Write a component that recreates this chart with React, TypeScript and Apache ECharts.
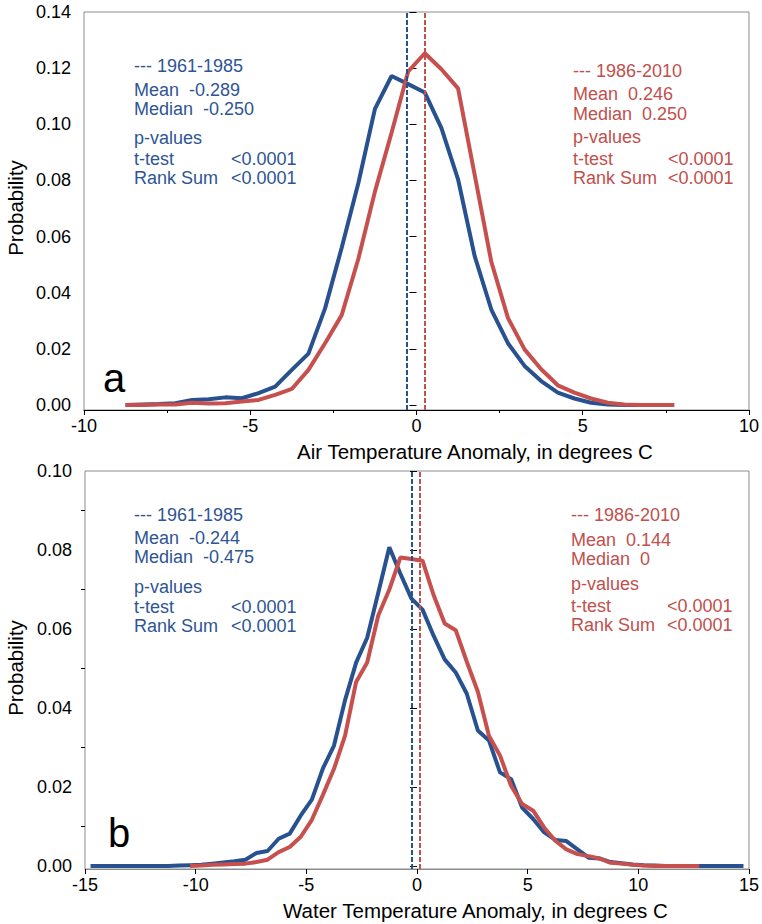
import React, { useEffect, useRef } from "react";
import * as echarts from "echarts";

// ---------- data ----------
const airX = [-8.75, -8.25, -7.75, -7.25, -6.75, -6.25, -5.75, -5.25, -4.75, -4.25, -3.75, -3.25, -2.75, -2.25, -1.75, -1.25, -0.75, -0.25, 0.25, 0.75, 1.25, 1.75, 2.25, 2.75, 3.25, 3.75, 4.25, 4.75, 5.25, 5.75, 6.25, 6.75, 7.25, 7.75];
const air1961 = [0, 0.0002, 0.0003, 0.0006, 0.0018, 0.002, 0.0027, 0.0024, 0.0042, 0.0065, 0.0125, 0.0183, 0.0344, 0.056, 0.079, 0.1055, 0.1172, 0.1143, 0.1113, 0.0986, 0.0804, 0.053, 0.034, 0.022, 0.0139, 0.0085, 0.0044, 0.0023, 0.0008, 0.0002, 0, 0, 0, 0];
const air1986 = [0, 0, 0.0002, 0.0002, 0.0008, 0.0005, 0.0006, 0.0012, 0.0018, 0.0036, 0.0057, 0.0125, 0.022, 0.032, 0.052, 0.076, 0.097, 0.1188, 0.1253, 0.1196, 0.1128, 0.082, 0.051, 0.031, 0.0198, 0.0127, 0.007, 0.0044, 0.0023, 0.0008, 0.0002, 0, 0, 0];

const waterX1961 = [-14.75, -14.25, -13.75, -13.25, -12.75, -12.25, -11.75, -11.25, -10.75, -10.25, -9.75, -9.25, -8.75, -8.25, -7.75, -7.25, -6.75, -6.25, -5.75, -5.25, -4.75, -4.25, -3.75, -3.25, -2.75, -2.25, -1.75, -1.25, -0.75, -0.25, 0.25, 0.75, 1.25, 1.75, 2.25, 2.75, 3.25, 3.75, 4.25, 4.75, 5.25, 5.75, 6.25, 6.75, 7.25, 7.75, 8.25, 8.75, 9.25, 9.75, 10.25, 10.75, 11.25, 11.75, 12.25, 12.75, 13.25, 13.75, 14.25, 14.75];
const water1961 = [0, 0, 0, 0, 0, 0, 0, 0, 0.0001, 0.0002, 0.0003, 0.0006, 0.0009, 0.0012, 0.0016, 0.0033, 0.0038, 0.0069, 0.0082, 0.0128, 0.0168, 0.0247, 0.0305, 0.042, 0.0515, 0.0578, 0.0692, 0.0807, 0.074, 0.0677, 0.0649, 0.0583, 0.0523, 0.049, 0.0436, 0.0343, 0.0318, 0.0237, 0.022, 0.0148, 0.0119, 0.0085, 0.0066, 0.0063, 0.0042, 0.0021, 0.0019, 0.001, 0.0007, 0.0004, 0.0002, 0.0001, 0, 0, 0, 0, 0, 0, 0, 0];
const waterX1986 = [-10.25, -9.75, -9.25, -8.75, -8.25, -7.75, -7.25, -6.75, -6.25, -5.75, -5.25, -4.75, -4.25, -3.75, -3.25, -2.75, -2.25, -1.75, -1.25, -0.75, -0.25, 0.25, 0.75, 1.25, 1.75, 2.25, 2.75, 3.25, 3.75, 4.25, 4.75, 5.25, 5.75, 6.25, 6.75, 7.25, 7.75, 8.25, 8.75, 9.25, 9.75, 10.25, 10.75, 11.25, 11.75, 12.25, 12.75];
const water1986 = [0, 0.0001, 0.0003, 0.0004, 0.0005, 0.0006, 0.001, 0.0016, 0.0035, 0.0048, 0.0074, 0.0117, 0.018, 0.0246, 0.033, 0.0466, 0.0515, 0.0634, 0.07, 0.0781, 0.0777, 0.0773, 0.0686, 0.0614, 0.0597, 0.0517, 0.0441, 0.033, 0.028, 0.0203, 0.0157, 0.014, 0.0097, 0.0064, 0.0042, 0.003, 0.0025, 0.0019, 0.0008, 0.0006, 0.0003, 0.0001, 0, 0, 0, 0, 0];

const airMeans = [-0.289, 0.246];
const waterMeans = [-0.244, 0.144];

const airYTicks = [0, 0.02, 0.04, 0.06, 0.08, 0.1, 0.12, 0.14];
const waterYTicks = [0, 0.02, 0.04, 0.06, 0.08, 0.1];
const waterYMinor = [0.01, 0.03, 0.05, 0.07, 0.09];

const blueAir = ["--- 1961-1985", "Mean  -0.289", "Median  -0.250", "p-values", "t-test", "Rank Sum"];
const redAir = ["--- 1986-2010", "Mean  0.246", "Median  0.250", "p-values", "t-test", "Rank Sum"];
const blueWater = ["--- 1961-1985", "Mean  -0.244", "Median  -0.475", "p-values", "t-test", "Rank Sum"];
const redWater = ["--- 1986-2010", "Mean  0.144", "Median  0", "p-values", "t-test", "Rank Sum"];
const pValue = "<0.0001";

// ---------- styles ----------
const BLUE = "#27518f";
const BLUE_TXT = "#2e5594";
const RED = "#c6504e";
const RED_TXT = "#c0504d";
const FONT = "'Liberation Sans', Arial, sans-serif";
const FRAME = "#8c8c8c";

function textEl(text: string, x: number, y: number, color: string, size = 18, extra: any = {}) {
  const { align, ...rest } = extra;
  return {
    type: "text",
    x,
    y,
    silent: true,
    ...rest,
    style: {
      text,
      fill: color,
      fontSize: size,
      fontFamily: FONT,
      align: align || "left",
      verticalAlign: "middle",
    },
  };
}

function block(lines: string[], x: number, ys: number[], x2: number, color: string) {
  const els: any[] = lines.map((t, i) => textEl(t, x, ys[i], color));
  els.push(textEl(pValue, x2, ys[4], color));
  els.push(textEl(pValue, x2, ys[5], color));
  return els;
}

function mkLine(mean: number, color: string) {
  return {
    silent: true,
    symbol: ["none", "none"],
    label: { show: false },
    lineStyle: { color, type: [5, 2], width: 2 },
    data: [{ xAxis: mean }],
  };
}

function xAxisCfg(gridIndex: number, min: number, max: number, lineColor: string, minor: boolean) {
  return {
    type: "value",
    gridIndex,
    min,
    max,
    interval: 5,
    axisLine: { show: true, onZero: false, lineStyle: { color: lineColor, width: 1 } },
    axisTick: { show: true, length: 5, lineStyle: { color: "#000" } },
    minorTick: { show: minor, splitNumber: 2, length: 3, lineStyle: { color: "#000" } },
    axisLabel: { fontSize: 18, color: "#000", fontFamily: FONT, margin: 7 },
    splitLine: { show: false },
    minorSplitLine: { show: false },
  };
}

function yAxisCfg(gridIndex: number, min: number, max: number, ticks: number[], showLabel: boolean, len: number) {
  return {
    type: "value",
    gridIndex,
    position: "left",
    offset: 0,
    min,
    max,
    axisLine: { show: false },
    axisTick: { show: true, length: len, customValues: ticks, lineStyle: { color: "#000" } },
    axisLabel: {
      show: showLabel,
      customValues: ticks,
      formatter: (v: number) => v.toFixed(2),
      fontSize: 18,
      color: "#000",
      fontFamily: FONT,
      margin: 13,
    },
    splitLine: { show: false },
  };
}

export default function App() {
  const ref = useRef<HTMLDivElement>(null);

  useEffect(() => {
    if (!ref.current) return;
    const chart = echarts.init(ref.current, null, { renderer: "svg" });

    const graphic: any[] = [
      ...block(blueAir, 134, [66, 89.5, 108.5, 138, 159, 178], 231, BLUE_TXT),
      ...block(redAir, 573, [71, 94, 114, 137, 159, 178], 668, RED_TXT),
      ...block(blueWater, 134, [515, 538, 557, 587, 607, 626], 231, BLUE_TXT),
      ...block(redWater, 571, [515, 539.5, 559, 584, 605.5, 624.5], 667, RED_TXT),
      textEl("Air Temperature Anomaly, in degrees C", 297, 451, "#000", 20.5),
      textEl("Water Temperature Anomaly, in degrees C", 283, 910, "#000", 20.5),
      textEl("Probability", 15, 208, "#000", 20.5, { rotation: Math.PI / 2, align: "center" }),
      textEl("Probability", 15, 668, "#000", 20.5, { rotation: Math.PI / 2, align: "center" }),
      textEl("a", 103, 378, "#000", 40),
      textEl("b", 108, 833, "#000", 40),
    ];

    chart.setOption({
      animation: false,
      backgroundColor: "#fff",
      grid: [
        { left: 84, top: 12, width: 665, height: 398, show: true, borderColor: FRAME, borderWidth: 1 },
        { left: 85, top: 471, width: 665, height: 398, show: true, borderColor: FRAME, borderWidth: 1 },
      ],
      xAxis: [xAxisCfg(0, -10, 10, "#000", true), xAxisCfg(1, -15, 15, FRAME, false)],
      yAxis: [
        yAxisCfg(0, -0.0018, 0.14, airYTicks, true, 7),
        yAxisCfg(1, -0.00076, 0.1, waterYTicks, true, 7),
        yAxisCfg(1, -0.00076, 0.1, waterYMinor, false, 4),
      ],
      series: [
        {
          type: "line",
          xAxisIndex: 0,
          yAxisIndex: 0,
          data: airX.map((x, i) => [x, air1961[i]]),
          symbol: "none",
          lineStyle: { color: BLUE, width: 4 },
          itemStyle: { color: BLUE },
          markLine: mkLine(airMeans[0], BLUE),
        },
        {
          type: "line",
          xAxisIndex: 0,
          yAxisIndex: 0,
          data: airX.map((x, i) => [x, air1986[i]]),
          symbol: "none",
          lineStyle: { color: RED, width: 4 },
          itemStyle: { color: RED },
          markLine: mkLine(airMeans[1], RED),
        },
        {
          type: "line",
          xAxisIndex: 1,
          yAxisIndex: 1,
          data: waterX1961.map((x, i) => [x, water1961[i]]),
          symbol: "none",
          lineStyle: { color: BLUE, width: 4 },
          itemStyle: { color: BLUE },
          markLine: mkLine(waterMeans[0], BLUE),
        },
        {
          type: "line",
          xAxisIndex: 1,
          yAxisIndex: 1,
          data: waterX1986.map((x, i) => [x, water1986[i]]),
          symbol: "none",
          lineStyle: { color: RED, width: 4 },
          itemStyle: { color: RED },
          markLine: mkLine(waterMeans[1], RED),
        },
      ],
      graphic,
    });

    return () => chart.dispose();
  }, []);

  return (
    <div
      ref={ref}
      style={{ position: "absolute", left: 0, top: 0, width: 762, height: 924, background: "#fff" }}
    />
  );
}
